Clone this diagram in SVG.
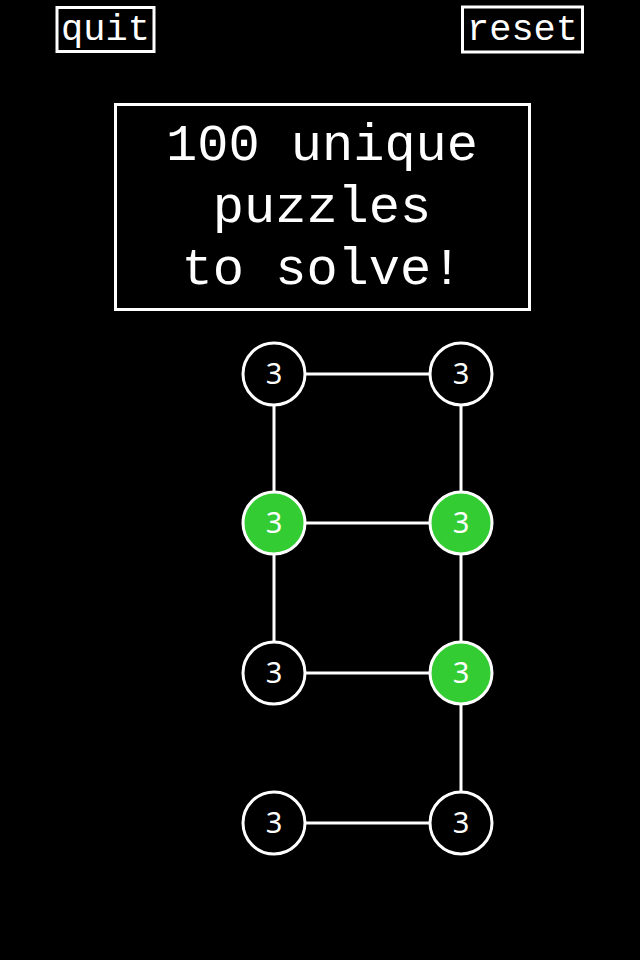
<svg xmlns="http://www.w3.org/2000/svg" width="640" height="960" viewBox="0 0 640 960">
<style>
.box{fill:none;stroke:#fff;stroke-width:3}
.mono{font-family:"Liberation Mono","Courier New",monospace;fill:#fff}
.edge{stroke:#fff;stroke-width:3}
.node circle{stroke:#fff;stroke-width:3}
.off circle{fill:#000}
.on circle{fill:#33cc33}
.node text{font-family:"Noto Sans","Open Sans",sans-serif;font-size:29px;fill:#fff;text-anchor:middle}
</style>
<rect width="640" height="960" fill="#000"/>
<g id="quit"><rect class="box" x="57" y="7.5" width="97" height="44"/><text class="mono" x="105.5" y="40" font-size="37" text-anchor="middle">quit</text></g>
<g id="reset"><rect class="box" x="462.5" y="7" width="120" height="45"/><text class="mono" x="522.5" y="40" font-size="37" text-anchor="middle">reset</text></g>
<g id="banner"><rect class="box" x="115.5" y="104.5" width="414" height="205"/>
<text class="mono" font-size="52" text-anchor="middle"><tspan x="322" y="160">100 unique</tspan><tspan x="322" y="222">puzzles</tspan><tspan x="322" y="284">to solve!</tspan></text></g>
<g id="connectors">
<line class="edge" x1="274" y1="374" x2="461" y2="374"/>
<line class="edge" x1="274" y1="374" x2="274" y2="673"/>
<line class="edge" x1="461" y1="374" x2="461" y2="823"/>
<line class="edge" x1="274" y1="523" x2="461" y2="523"/>
<line class="edge" x1="274" y1="673" x2="461" y2="673"/>
<line class="edge" x1="274" y1="823" x2="461" y2="823"/>
</g>
<g id="n1" class="node off"><circle cx="274" cy="374" r="31"/><text x="274" y="384">3</text></g>
<g id="n2" class="node off"><circle cx="461" cy="374" r="31"/><text x="461" y="384">3</text></g>
<g id="n3" class="node on"><circle cx="274" cy="523" r="31"/><text x="274" y="533">3</text></g>
<g id="n4" class="node on"><circle cx="461" cy="523" r="31"/><text x="461" y="533">3</text></g>
<g id="n5" class="node off"><circle cx="274" cy="673" r="31"/><text x="274" y="683">3</text></g>
<g id="n6" class="node on"><circle cx="461" cy="673" r="31"/><text x="461" y="683">3</text></g>
<g id="n7" class="node off"><circle cx="274" cy="823" r="31"/><text x="274" y="833">3</text></g>
<g id="n8" class="node off"><circle cx="461" cy="823" r="31"/><text x="461" y="833">3</text></g>
</svg>
